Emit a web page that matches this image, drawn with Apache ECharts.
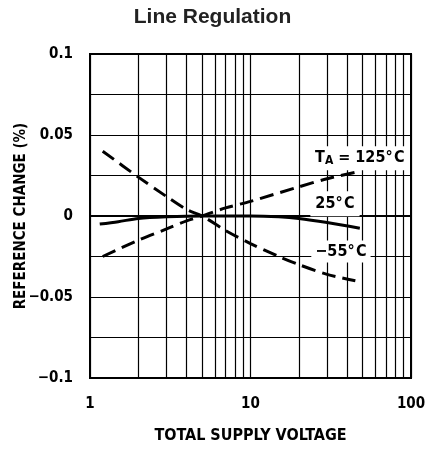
<!DOCTYPE html>
<html>
<head>
<meta charset="utf-8">
<script src="https://cdn.jsdelivr.net/npm/echarts@6/dist/echarts.min.js"></script>
<style>
  html, body { margin: 0; padding: 0; background: #fff; }
  #chart { width: 425px; height: 449px; }
</style>
</head>
<body>
<div id="chart"></div>
<script>
// Reference voltage change vs. total supply voltage at three ambient temperatures
const volts125 = [1.2, 2, 3, 4, 5, 7, 10, 20, 30, 45];
const change125 = [-0.025, -0.015, -0.008, -0.003, 0, 0.005, 0.009, 0.018, 0.023, 0.027];

const volts25 = [1.15, 1.5, 2, 3, 5, 10, 15, 20, 30, 48];
const change25 = [-0.005, -0.0035, -0.0015, -0.0005, 0, 0, -0.0005, -0.0015, -0.004, -0.0075];

const voltsM55 = [1.2, 2, 3, 4, 5, 7, 10, 15, 20, 30, 45];
const changeM55 = [0.040, 0.024, 0.012, 0.004, 0, -0.009, -0.017, -0.025, -0.030, -0.036, -0.040];

// Log-decade grid lines between the major ticks
const minorGrid = [2, 3, 4, 5, 6, 7, 8, 9, 20, 30, 40, 50, 60, 70, 80, 90];
// Y tick labels shown (every other grid line)
const yLabelValues = [-0.1, -0.05, 0, 0.05, 0.1];

const pairs = (xs, ys) => xs.map((x, i) => [x, ys[i]]);
const FONT = '"DejaVu Sans Condensed", "Liberation Sans Narrow", "DejaVu Sans", sans-serif';

function fmtY(v) {
  const hit = yLabelValues.find(t => Math.abs(t - v) < 1e-9);
  if (hit === undefined) return '';
  if (hit === 0) return '0';
  return (hit < 0 ? '\u2212' : '') + String(Math.abs(hit));
}

const tagLabel = {
  show: true,
  color: '#000',
  fontFamily: FONT,
  fontWeight: 'bold',
  fontSize: 16,
  backgroundColor: '#fff',
  padding: [3, 4, 3, 4]
};

const chart = echarts.init(document.getElementById('chart'), null, { renderer: 'canvas' });
chart.setOption({
  animation: false,
  backgroundColor: '#fff',
  title: {
    text: 'Line Regulation',
    left: 'center',
    top: 2,
    textStyle: { fontFamily: '"Liberation Sans", Arial, sans-serif', fontWeight: 'bold', fontSize: 21, color: '#222' }
  },
  grid: {
    left: 90, top: 54, width: 321, height: 324,
    outerBoundsMode: 'none',
    containLabel: false,
    show: true, borderColor: '#000', borderWidth: 2, backgroundColor: 'transparent'
  },
  xAxis: {
    type: 'log',
    logBase: 10,
    min: 1,
    max: 100,
    name: 'TOTAL SUPPLY VOLTAGE',
    nameLocation: 'middle',
    nameGap: 50,
    nameMoveOverlap: false,
    nameTextStyle: { fontFamily: FONT, fontWeight: 'bold', fontSize: 16, color: '#000' },
    axisLine: { show: true, lineStyle: { color: '#000', width: 2 } },
    axisTick: { show: false },
    axisLabel: { fontFamily: FONT, fontWeight: 'bold', fontSize: 15, color: '#000', margin: 19 },
    splitLine: { show: true, lineStyle: { color: '#000', width: 1.2 } }
  },
  yAxis: {
    type: 'value',
    min: -0.1,
    max: 0.1,
    interval: 0.025,
    name: 'REFERENCE CHANGE (%)',
    nameLocation: 'middle',
    nameGap: 69,
    nameRotate: 90,
    nameMoveOverlap: false,
    nameTextStyle: { fontFamily: FONT, fontWeight: 'bold', fontSize: 15, color: '#000', verticalAlign: 'middle' },
    axisLine: { show: true, lineStyle: { color: '#000', width: 2 } },
    axisTick: { show: false },
    axisLabel: { fontFamily: FONT, fontWeight: 'bold', fontSize: 15, color: '#000', margin: 17, formatter: fmtY },
    splitLine: { show: true, lineStyle: { color: '#000', width: 1.2 } }
  },
  series: [
    {
      name: 'grid',
      type: 'line',
      data: [],
      silent: true,
      markLine: {
        silent: true,
        symbol: 'none',
        label: { show: false },
        lineStyle: { color: '#000', width: 1.2, type: 'solid' },
        data: minorGrid.map(v => ({ xAxis: v }))
      },
      z: 1
    },
    {
      name: '125\u00b0C',
      type: 'line',
      data: pairs(volts125, change125),
      smooth: 0.3,
      showSymbol: false,
      lineStyle: { color: '#000', width: 3, type: [14, 7] },
      z: 3,
      markPoint: {
        symbol: 'circle',
        symbolSize: 0,
        data: [{ coord: [48, 0.0357] }],
        label: Object.assign({}, tagLabel, {
          formatter: '{t|T}{s|A}{t| = 125\u00b0\u200aC}',
          rich: {
            t: { fontFamily: FONT, fontWeight: 'bold', fontSize: 16, color: '#000' },
            s: { fontFamily: FONT, fontWeight: 'bold', fontSize: 12, color: '#000', verticalAlign: 'bottom', padding: [6, 0, 0, 0] }
          }
        })
      }
    },
    {
      name: '25\u00b0C',
      type: 'line',
      data: pairs(volts25, change25),
      smooth: 0.3,
      showSymbol: false,
      lineStyle: { color: '#000', width: 3, type: 'solid' },
      z: 3,
      markPoint: {
        symbol: 'circle',
        symbolSize: 0,
        data: [{ coord: [33.6, 0.0075] }],
        label: Object.assign({}, tagLabel, { formatter: '25\u00b0\u200aC', padding: [5, 5, 4, 5] })
      }
    },
    {
      name: '\u221255\u00b0C',
      type: 'line',
      data: pairs(voltsM55, changeM55),
      smooth: 0.3,
      showSymbol: false,
      lineStyle: { color: '#000', width: 3, type: [14, 7] },
      z: 3,
      markPoint: {
        symbol: 'circle',
        symbolSize: 0,
        data: [{ coord: [36.6, -0.0219] }],
        label: Object.assign({}, tagLabel, { formatter: '\u221255\u00b0\u200aC' })
      }
    }
  ]
});
</script>
</body>
</html>
